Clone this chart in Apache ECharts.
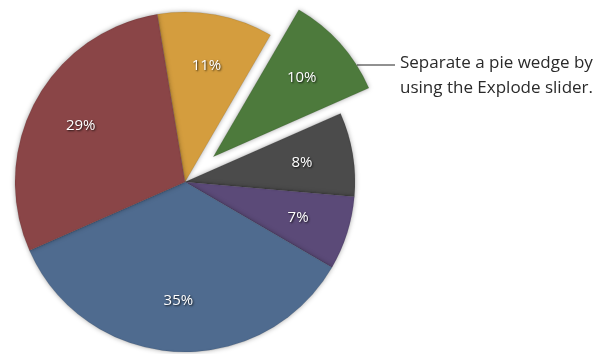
<!DOCTYPE html>
<html>
<head>
<meta charset="utf-8">
<script src="https://cdn.jsdelivr.net/npm/echarts@6/dist/echarts.min.js"></script>
<style>
  html, body { margin: 0; padding: 0; background: #fff; }
  #main { width: 606px; height: 354px; }
</style>
</head>
<body>
<div id="main"></div>
<script>
  // wedges, clockwise from the top
  const names = ['A', 'B', 'C', 'D', 'E', 'F']
  const values = [11, 10, 8, 7, 35, 29]
  const colors = ['#d49d3e', '#4d7a3c', '#4b4b4b', '#5b4a78', '#4f6b8f', '#8a4547']
  const exploded = 'B'
  const note = ['Separate a pie wedge by', 'using the Explode slider.']

  const cx = 185, cy = 182, r = 170
  const startAngle = 99.4
  const offset = 38

  let data = names.map((n, i) => ({
    name: n,
    value: values[i],
    selected: n === exploded,
    itemStyle: { color: colors[i] },
  }))

  let chart = echarts.init(document.getElementById('main'))
  chart.setOption({
    animation: false,
    series: [
      {
        type: 'pie',
        center: [cx, cy],
        radius: [0, r],
        startAngle: startAngle,
        clockwise: true,
        selectedMode: 'single',
        selectedOffset: offset,
        silent: true,
        label: { show: false },
        labelLine: { show: false },
        itemStyle: {
          borderColor: 'rgba(0,0,0,0.15)',
          borderWidth: 0.6,
          shadowBlur: 5,
          shadowColor: 'rgba(0,0,0,0.35)',
        },
        data: data,
      },
      {
        // invisible ring only to place labels at ~2/3 of the radius
        type: 'pie',
        center: [cx, cy],
        radius: [0, r * 1.36],
        startAngle: startAngle,
        clockwise: true,
        selectedMode: 'single',
        selectedOffset: offset,
        silent: true,
        itemStyle: { color: 'rgba(0,0,0,0)' },
        label: {
          show: true,
          position: 'inside',
          formatter: '{c}%',
          color: '#fff',
          fontFamily: 'Open Sans',
          fontSize: 15,
          textShadowColor: 'rgba(0,0,0,0.8)',
          textShadowBlur: 2,
          textShadowOffsetX: 1,
          textShadowOffsetY: 1,
        },
        labelLine: { show: false },
        data: data.map(d => ({ name: d.name, value: d.value, selected: d.selected })),
      },
    ],
    graphic: [
      {
        type: 'line',
        shape: { x1: 357, y1: 65, x2: 395, y2: 65 },
        style: { stroke: '#222', lineWidth: 1 },
      },
      {
        type: 'text',
        left: 400,
        top: 51,
        style: {
          text: note.join('\n'),
          fill: '#2a2a2a',
          font: '17px "Open Sans"',
          lineHeight: 25,
        },
      },
    ],
  })
</script>
</body>
</html>
